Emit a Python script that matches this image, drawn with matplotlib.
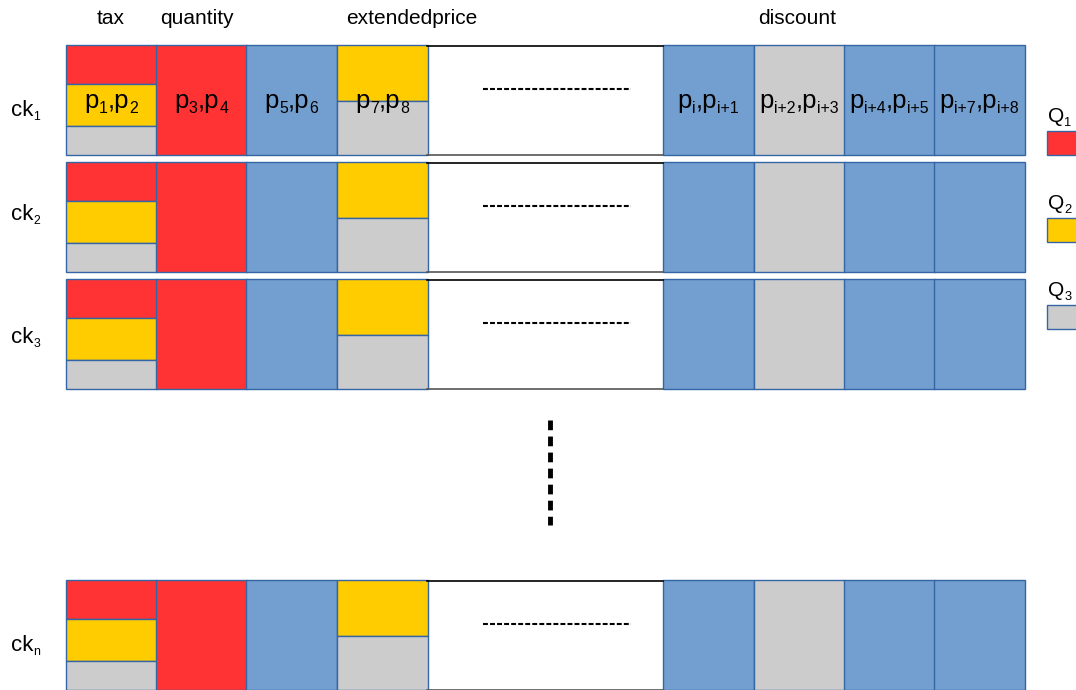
import matplotlib.pyplot as plt
from matplotlib.patches import Rectangle

plt.rcParams['font.family'] = ['Liberation Sans', 'DejaVu Sans']

RED, YEL, BLUE, GRAY = '#ff3333', '#ffcc00', '#729fcf', '#cccccc'
EDGE = '#3465a4'

# layout (pixel units)
col_left = [66, 156, 246, 337, 663, 754, 844, 934]
col_w = 90.5
gap = (427, 663)
row_top = [45, 162, 279, 580]
row_h = 110
row_names = ['1', '2', '3', 'n']
row_label_base = [116, 220, 343, 651]

# column fills: list of (colour, fraction of height) from top
col_fill = [
    [(RED, 0.355), (YEL, 0.38), (GRAY, 0.265)],
    [(RED, 1.0)],
    [(BLUE, 1.0)],
    [(YEL, 0.51), (GRAY, 0.49)],
    [(BLUE, 1.0)],
    [(GRAY, 1.0)],
    [(BLUE, 1.0)],
    [(BLUE, 1.0)],
]
cell_subs = [('1', '2'), ('3', '4'), ('5', '6'), ('7', '8'),
             ('i', 'i+1'), ('i+2', 'i+3'), ('i+4', 'i+5'), ('i+7', 'i+8')]

col_names = ['tax', 'quantity', 'extendedprice', 'discount']
col_name_x = [111, 197, 412, 797]

legend_names = ['1', '2', '3']
legend_colors = [RED, YEL, GRAY]
legend_y = [131, 218, 305]

fig = plt.figure(figsize=(10.76, 6.9), dpi=100)
ax = fig.add_axes([0, 0, 1, 1])
ax.set_xlim(0, 1076)
ax.set_ylim(690, 0)
ax.axis('off')
renderer = fig.canvas.get_renderer()


def rich(x, y, parts, size, sub=0.62, drop=0.19, ha='center'):
    # parts: (text, is_subscript); y is the baseline
    arts = []
    for s, is_sub in parts:
        fs = size * sub if is_sub else size
        dy = drop * size / 0.72 if is_sub else 0
        t = ax.text(0, y + dy, s, fontsize=fs, ha='left', va='baseline')
        arts.append(t)
    widths = [t.get_window_extent(renderer).width for t in arts]
    x0 = x - sum(widths) / 2 if ha == 'center' else x
    for t, w in zip(arts, widths):
        t.set_x(x0)
        x0 += w


for name, x in zip(col_names, col_name_x):
    ax.text(x, 18, name, ha='center', va='center', fontsize=15)

for r, (top, rn) in enumerate(zip(row_top, row_names)):
    rich(11, row_label_base[r], [('ck', False), (rn, True)], 16, sub=0.55, ha='left')
    # white gap box
    ax.add_patch(Rectangle((gap[0], top), gap[1] - gap[0], row_h,
                           facecolor='white', edgecolor='none'))
    ax.plot(gap, [top + 0.5, top + 0.5], color='black', lw=1.2)
    ax.plot(gap, [top + row_h - 0.5] * 2, color='#555555', lw=1.2)
    ax.plot([483, 631], [top + 44, top + 44], color='black', lw=1.5,
            ls=(0, (2.35, 1.03)))
    for c, x in enumerate(col_left):
        y = top
        for colr, frac in col_fill[c]:
            h = frac * row_h
            ax.add_patch(Rectangle((x, y), col_w, h, facecolor=colr,
                                   edgecolor=EDGE, lw=1))
            y += h
        if r == 0:
            a, b = cell_subs[c]
            rich(x + col_w / 2, top + 63,
                 [('p', False), (a, True), (',p', False), (b, True)], 18.5)

# vertical ellipsis between rows
ax.plot([550, 550], [420, 525], color='black', lw=3.5, ls=(0, (2, 1.3)))

for name, colr, y in zip(legend_names, legend_colors, legend_y):
    rich(1048, y - 9, [('Q', False), (name, True)], 15, ha='left')
    ax.add_patch(Rectangle((1047, y), 40, 24, facecolor=colr, edgecolor=EDGE, lw=1))

fig.savefig('out.png', dpi=100)
